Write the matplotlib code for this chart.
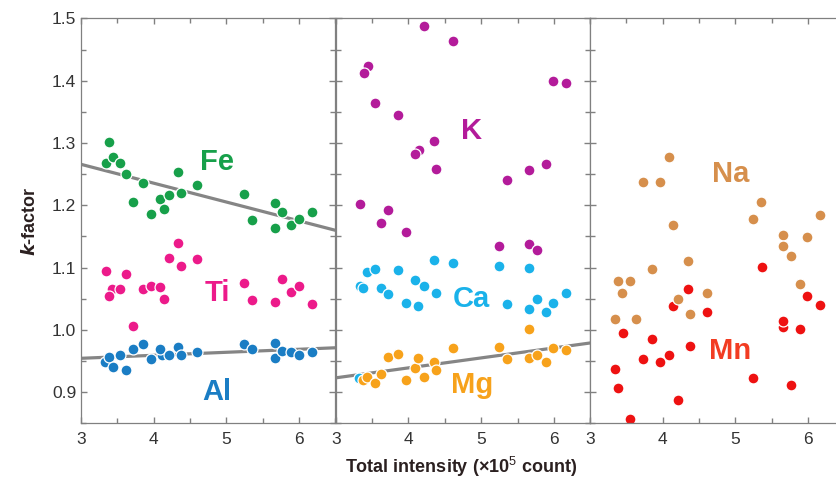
import numpy as np
import matplotlib
matplotlib.use("Agg")
import matplotlib.pyplot as plt
from matplotlib.ticker import MultipleLocator

plt.rcParams['font.family'] = ['Liberation Sans', 'DejaVu Sans']
plt.rcParams['mathtext.fontset'] = 'custom'
plt.rcParams['mathtext.rm'] = 'Liberation Sans'
plt.rcParams['mathtext.it'] = 'Liberation Sans:italic'
plt.rcParams['mathtext.bf'] = 'Liberation Sans:bold'

# ---- datos (intensidad total x1e5, k-factor) ----
fe_x = [3.34, 3.385, 3.436, 3.54, 3.62, 3.85, 3.72, 3.96, 4.08, 4.14, 4.21,
        4.34, 4.38, 4.60, 5.24, 5.35, 5.67, 5.77, 5.67, 5.89, 6.00, 6.18]
fe_y = [1.268, 1.301, 1.278, 1.268, 1.251, 1.235, 1.205, 1.186, 1.210, 1.194, 1.217,
        1.254, 1.220, 1.232, 1.218, 1.176, 1.204, 1.190, 1.163, 1.169, 1.178, 1.189]

ti_x = [3.344, 3.42, 3.39, 3.54, 3.62, 3.72, 3.85, 3.96, 4.08, 4.14, 4.21,
        4.34, 4.38, 4.60, 5.24, 5.35, 5.67, 5.77, 5.89, 6.00, 6.18]
ti_y = [1.095, 1.065, 1.055, 1.066, 1.089, 1.006, 1.066, 1.071, 1.069, 1.050, 1.115,
        1.140, 1.103, 1.113, 1.075, 1.048, 1.044, 1.081, 1.061, 1.071, 1.041]

al_x = [3.335, 3.39, 3.436, 3.54, 3.62, 3.72, 3.85, 3.96, 4.11, 4.08, 4.21,
        4.34, 4.38, 4.60, 5.24, 5.35, 5.67, 5.67, 5.77, 5.89, 6.00, 6.18]
al_y = [0.949, 0.957, 0.941, 0.959, 0.935, 0.970, 0.977, 0.953, 0.960, 0.970, 0.959,
        0.972, 0.960, 0.965, 0.977, 0.970, 0.979, 0.955, 0.966, 0.964, 0.960, 0.965]

k_x = [4.21, 4.61, 3.44, 3.385, 3.54, 3.85, 5.99, 6.17, 4.35, 4.14, 4.09, 4.38,
       5.35, 5.66, 5.89, 3.34, 3.72, 3.62, 3.97, 5.24, 5.66, 5.77]
k_y = [1.488, 1.463, 1.424, 1.413, 1.364, 1.345, 1.400, 1.396, 1.303, 1.289, 1.283, 1.258,
       1.240, 1.257, 1.267, 1.202, 1.193, 1.172, 1.157, 1.135, 1.138, 1.129]

ca_x = [3.32, 3.334, 3.38, 3.435, 3.54, 3.62, 3.72, 3.85, 3.96, 4.09, 4.13, 4.21,
        4.35, 4.38, 4.61, 5.24, 5.35, 5.66, 5.66, 5.77, 5.89, 5.99, 6.17]
ca_y = [0.922, 1.071, 1.067, 1.093, 1.097, 1.068, 1.058, 1.096, 1.043, 1.080, 1.039, 1.071,
        1.112, 1.059, 1.108, 1.103, 1.042, 1.099, 1.033, 1.049, 1.029, 1.043, 1.059]

mg_x = [3.38, 3.435, 3.54, 3.62, 3.72, 3.85, 3.96, 4.09, 4.13, 4.21, 4.35,
        4.38, 4.61, 5.24, 5.35, 5.66, 5.66, 5.77, 5.89, 5.99, 6.17]
mg_y = [0.920, 0.925, 0.915, 0.930, 0.956, 0.962, 0.919, 0.939, 0.955, 0.924, 0.948,
        0.935, 0.971, 0.972, 0.954, 1.001, 0.955, 0.960, 0.948, 0.971, 0.968]

na_x = [4.09, 3.73, 3.97, 4.14, 5.35, 5.24, 6.17, 5.66, 5.99, 5.66, 5.77, 4.35,
        3.85, 3.39, 3.55, 3.44, 5.89, 4.61, 4.21, 4.38, 3.35, 3.63]
na_y = [1.278, 1.238, 1.238, 1.169, 1.206, 1.178, 1.184, 1.153, 1.149, 1.135, 1.119, 1.110,
        1.098, 1.078, 1.078, 1.059, 1.074, 1.059, 1.049, 1.026, 1.018, 1.017]

mn_x = [5.36, 4.35, 4.14, 4.61, 5.99, 6.17, 5.66, 5.66, 5.89, 3.45, 3.85, 4.38,
        3.73, 4.09, 3.97, 3.35, 3.39, 5.24, 5.77, 4.21, 3.55]
mn_y = [1.101, 1.065, 1.038, 1.028, 1.054, 1.040, 1.004, 1.015, 1.002, 0.995, 0.986, 0.974,
        0.953, 0.959, 0.948, 0.937, 0.907, 0.922, 0.912, 0.888, 0.857]

# paneles: (elemento, x, y, color punto, color texto, posicion etiqueta, recta?)
paneles = [
    [("Ti", ti_x, ti_y, '#ec1a8a', '#ec1a8a', (4.87, 1.06), False),
     ("Al", al_x, al_y, '#1a7dc4', '#1a7dc4', (4.87, 0.90), True),
     ("Fe", fe_x, fe_y, '#17a04a', '#17a04a', (4.87, 1.27), True)],
    [("K", k_x, k_y, '#b31b9a', '#b31b9a', (4.87, 1.32), False),
     ("Ca", ca_x, ca_y, '#1ab2ea', '#1ab2ea', (4.87, 1.05), False),
     ("Mg", mg_x, mg_y, '#f7a21b', '#f7a21b', (4.87, 0.912), True)],
    [("Mn", mn_x, mn_y, '#ee1111', '#f23c22', (4.93, 0.966), False),
     ("Na", na_x, na_y, '#d68f4c', '#d68f4c', (4.93, 1.25), False)],
]

fig = plt.figure(figsize=(8.36, 4.8), dpi=100)
izq = [0.0969, 0.4016, 0.7057]
gris = '#808080'

for i, grupo in enumerate(paneles):
    ax = fig.add_axes([izq[i], 0.118, 0.3044, 0.84375])
    ax.set_xlim(3, 6.5)
    ax.set_ylim(0.85, 1.5)
    for nombre, xs, ys, col, col_txt, pos, recta in grupo:
        xs = np.array(xs); ys = np.array(ys)
        if recta:
            m, b = np.polyfit(xs, ys, 1)
            xx = np.array([3.0, 6.5])
            ax.plot(xx, m * xx + b, color='#858585', lw=2.3, zorder=1, solid_capstyle='butt')
        ax.scatter(xs, ys, s=62, color=col, edgecolors='white', linewidths=0.9, zorder=2)
        ax.text(pos[0], pos[1], nombre, color=col_txt, fontsize=21, fontweight='bold',
                ha='center', va='center', zorder=3)

    ax.xaxis.set_major_locator(MultipleLocator(1))
    ax.xaxis.set_minor_locator(MultipleLocator(0.5))
    ax.yaxis.set_major_locator(MultipleLocator(0.1))
    ax.yaxis.set_minor_locator(MultipleLocator(0.05))
    ax.tick_params(which='both', direction='in', top=True, right=True, color=gris,
                   width=1, labelsize=12.5, labelcolor='#333333')
    ax.tick_params(which='major', length=4.5)
    ax.tick_params(which='minor', length=3.5)
    ax.tick_params(axis='x', pad=6)
    for s in ax.spines.values():
        s.set_color(gris)
        s.set_linewidth(0.9)
    if i == 0:
        ax.set_yticks(np.arange(0.9, 1.51, 0.1))
        ax.set_yticklabels([f"{v:.1f}" for v in np.arange(0.9, 1.51, 0.1)])
        ax.set_ylabel(r"$\mathbfit{k}$" + "-factor", fontsize=13, fontweight='bold',
                      color='#2b2020', labelpad=9)
    else:
        ax.tick_params(axis='y', labelleft=False)
    if i == 2:
        ax.spines['right'].set_visible(False)

fig.text(0.552, 0.027, "Total intensity (×10$^{\\mathrm{5}}$ count)", ha='center', va='center',
         fontsize=13, fontweight='bold', color='#2b2020')

fig.savefig("out.png", dpi=100)
